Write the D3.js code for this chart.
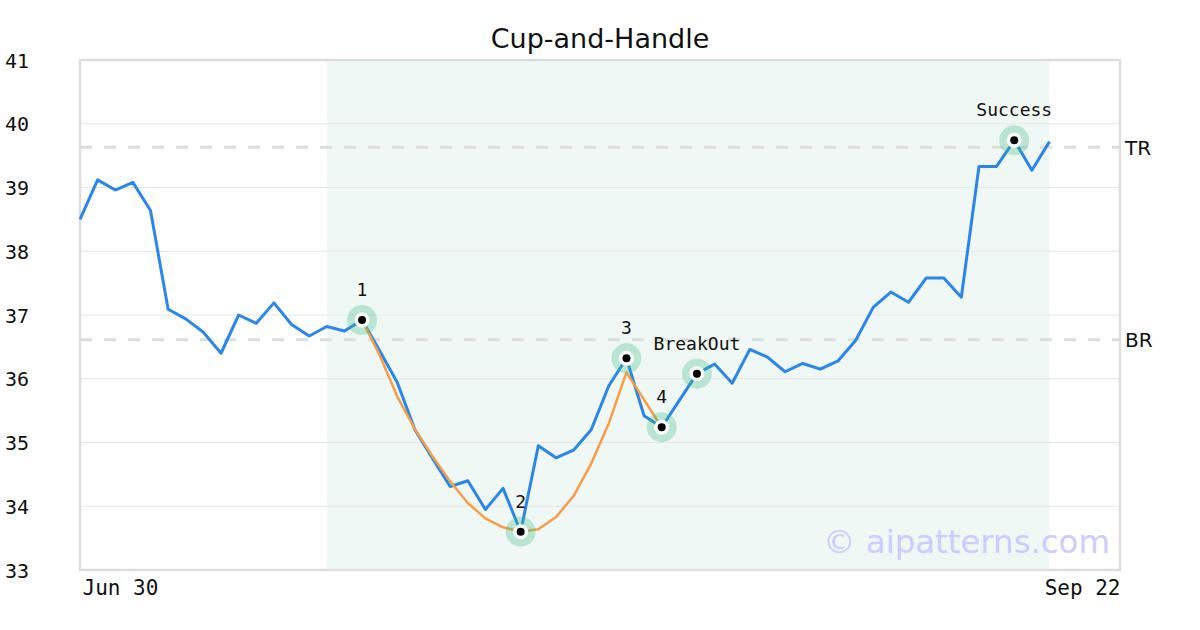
<!DOCTYPE html>
<html><head><meta charset="utf-8">
<script src="https://cdn.jsdelivr.net/npm/d3@7/dist/d3.min.js"></script>
<style>body{margin:0;background:#fff}svg{display:block}</style>
</head><body>
<svg id="c" width="1200" height="630"></svg>
<script>
const title = "Cup-and-Handle";
const xTickLabels = ["Jun 30", "Sep 22"];
const yTicks = [33, 34, 35, 36, 37, 38, 39, 40, 41];
const price = [38.50, 39.12, 38.96, 39.08, 38.64, 37.09, 36.94, 36.73, 36.40, 37.00,
  36.87, 37.19, 36.85, 36.67, 36.82, 36.75, 36.92, 36.44, 35.94, 35.20,
  34.75, 34.31, 34.40, 33.95, 34.28, 33.60, 34.95, 34.76, 34.88, 35.20,
  35.89, 36.32, 35.42, 35.24, 35.66, 36.08, 36.23, 35.93, 36.46, 36.34,
  36.11, 36.24, 36.15, 36.28, 36.60, 37.12, 37.36, 37.20, 37.58, 37.58,
  37.28, 39.33, 39.33, 39.74, 39.27, 39.72];
const cupStart = 16;
const cupFit = [36.92, 36.37, 35.72, 35.21, 34.78, 34.39, 34.05, 33.81, 33.67, 33.60,
  33.64, 33.83, 34.16, 34.67, 35.30, 36.10, 35.67, 35.24];
const markerIdx = [16, 25, 31, 33, 35, 53];
const markerLabels = ["1", "2", "3", "4", "BreakOut", "Success"];
const levels = [39.63, 36.61];
const levelLabels = ["TR", "BR"];
const shadeRange = [14, 55];
const xDomainMax = 59;

const svg = d3.select("#c");
const L = 80, R = 1120, T = 60, B = 570;
const x = d3.scaleLinear().domain([0, xDomainMax]).range([L, R]);
const y = d3.scaleLinear().domain([33, 41]).range([B, T]);

svg.append("rect").attr("x", x(shadeRange[0])).attr("y", T)
  .attr("width", x(shadeRange[1]) - x(shadeRange[0])).attr("height", B - T)
  .attr("fill", "#f0f8f5");

// grid
svg.append("g").selectAll("line").data(yTicks.slice(1, -1)).join("line")
  .attr("x1", L).attr("x2", R).attr("y1", d => y(d)).attr("y2", d => y(d))
  .attr("stroke", "#e6e6e6").attr("stroke-width", 1.2);

// level lines
svg.append("g").selectAll("line").data(levels).join("line")
  .attr("x1", L).attr("x2", R).attr("y1", d => y(d)).attr("y2", d => y(d))
  .attr("stroke", "#dddddd").attr("stroke-width", 3).attr("stroke-dasharray", "12,12");
svg.append("g").selectAll("text").data(levels).join("text")
  .attr("x", R + 5).attr("y", d => y(d)).attr("dy", "0.36em")
  .attr("font-family", "DejaVu Sans").attr("font-size", 20).attr("fill", "#111")
  .text((d, i) => levelLabels[i]);

// border
svg.append("rect").attr("x", L).attr("y", T).attr("width", R - L).attr("height", B - T)
  .attr("fill", "none").attr("stroke", "#dddddd").attr("stroke-width", 2.5);

// y axis labels
const yAxis = d3.axisLeft(y).tickValues(yTicks).tickSize(0).tickFormat(d3.format("d"));
const ga = svg.append("g").attr("transform", `translate(${L},0)`).call(yAxis);
ga.select(".domain").remove();
ga.selectAll("text").attr("x", 5 - L).attr("text-anchor", "start")
  .attr("font-family", "DejaVu Sans Mono").attr("font-size", 20).attr("fill", "#111")
  .attr("dy", "0.36em");

// x labels
const xAxis = d3.axisBottom(x).tickValues([0, xDomainMax]).tickSize(0)
  .tickFormat((d, i) => xTickLabels[i]);
const gx = svg.append("g").attr("transform", `translate(0,${B})`).call(xAxis);
gx.select(".domain").remove();
gx.selectAll("text").attr("y", 25).attr("dy", "0")
  .attr("font-family", "DejaVu Sans Mono").attr("font-size", 21).attr("fill", "#111")
  .attr("text-anchor", (d, i) => i === 0 ? "start" : "end")
  .attr("dx", (d, i) => i === 0 ? 2 : 0);

// watermark
svg.append("text").attr("x", 1110).attr("y", 553).attr("text-anchor", "end")
  .attr("font-family", "DejaVu Sans").attr("font-size", 32.4).attr("fill", "#ccccff")
  .text("© aipatterns.com");

// price line
const line = d3.line().x((d, i) => x(i)).y(d => y(d));
svg.append("path").datum(price).attr("d", line)
  .attr("fill", "none").attr("stroke", "#2a86e8").attr("stroke-width", 3).attr("stroke-linejoin", "round");

// cup fit
const line2 = d3.line().x((d, i) => x(i + cupStart)).y(d => y(d));
svg.append("path").datum(cupFit).attr("d", line2)
  .attr("fill", "none").attr("stroke", "#f89c45").attr("stroke-width", 2.5).attr("stroke-linejoin", "round");

// markers
const mk = svg.append("g").selectAll("g").data(markerIdx).join("g")
  .attr("transform", d => `translate(${x(d)},${y(price[d])})`);
mk.append("circle").attr("r", 15).attr("fill", "rgba(60,190,130,0.3)");
mk.append("circle").attr("r", 7.5).attr("fill", "#fff");
mk.append("circle").attr("r", 4).attr("fill", "#000");
mk.append("text").attr("y", -24).attr("text-anchor", "middle")
  .attr("font-family", "DejaVu Sans Mono").attr("font-size", 18).attr("fill", "#111")
  .text((d, i) => markerLabels[i]);

// title
svg.append("text").attr("x", 600).attr("y", 48).attr("text-anchor", "middle")
  .attr("font-family", "DejaVu Sans").attr("font-size", 27).attr("fill", "#111")
  .text(title);
</script>
</body></html>
